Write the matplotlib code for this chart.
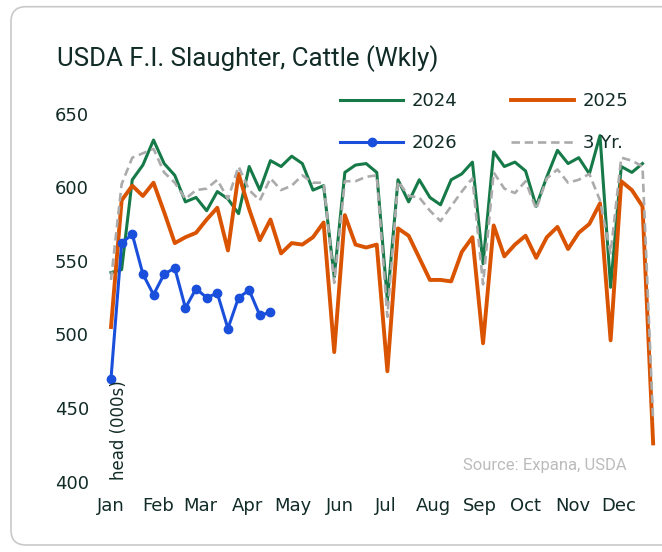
## Import libraries
import numpy as np
import matplotlib
matplotlib.use('Agg')
import matplotlib.pyplot as plt
from matplotlib.patches import FancyBboxPatch


## Data (weekly, head 000s)
weeks_2024 = list(range(1, 52))
y2024 = [542, 544, 605, 615, 632, 616, 608, 590, 593, 584,
         597, 592, 582, 614, 598, 618, 614, 621, 616, 598,
         601, 539, 610, 615, 616, 610, 523, 605, 590, 605,
         593, 588, 605, 609, 617, 548, 624, 614, 617, 611,
         587, 607, 625, 616, 620, 609, 635, 532, 614, 610,
         616]

weeks_2025 = list(range(1, 53))
y2025 = [505, 591, 601, 594, 603, 583, 562, 566, 569, 578,
         586, 557, 609, 585, 564, 578, 555, 562, 561, 566,
         576, 488, 581, 561, 559, 561, 475, 572, 567, 552,
         537, 537, 536, 556, 566, 494, 574, 553, 561, 567,
         552, 566, 573, 558, 569, 575, 589, 496, 604, 598,
         587, 426]

weeks_2026 = list(range(1, 17))
y2026 = [470, 562, 568, 541, 527, 541, 545, 518, 531, 525,
         528, 504, 525, 530, 513, 515]

weeks_avg = list(range(1, 53))
yavg = [537, 602, 620, 623, 626, 610, 603, 592, 598, 599,
        605, 592, 614, 598, 591, 606, 598, 601, 608, 603,
        603, 535, 604, 604, 607, 608, 512, 604, 594, 593,
        584, 577, 587, 597, 606, 534, 610, 599, 596, 604,
        585, 606, 612, 603, 605, 609, 591, 555, 620, 618,
        614, 441]

months = ['Jan', 'Feb', 'Mar', 'Apr', 'May', 'Jun',
          'Jul', 'Aug', 'Sep', 'Oct', 'Nov', 'Dec']
month_start_doy = [1, 32, 60, 91, 121, 152, 182, 213, 244, 274, 305, 335]
yticks = [400, 450, 500, 550, 600, 650]

## Style
dark = '#112b26'
c2024 = '#167a48'
c2025 = '#d95300'
c2026 = '#1a4fdc'
cavg = '#ababab'

W, H = 662, 552
fig = plt.figure(figsize=(W/100, H/100), dpi=100)

# card border
card = FancyBboxPatch((0.11, 0.07), 7.0, 5.383,
                      boxstyle='round,pad=0,rounding_size=0.15',
                      transform=fig.dpi_scale_trans,
                      facecolor='none', edgecolor='#c9c9c9', lw=1.2, zorder=0)
fig.patches.append(card)

# axes placed in pixels
ax_l, ax_r = 100, 662
ax_top, ax_bot = 113.5, 481.7
ax = fig.add_axes([ax_l/W, 1-ax_bot/H, (ax_r-ax_l)/W, (ax_bot-ax_top)/H])
ax.patch.set_alpha(0)

px_per_wk = 10.63
ax.set_xlim(1-(111-ax_l)/px_per_wk, 1+(ax_r-111)/px_per_wk)
ax.set_ylim(400, 650)

l1, = ax.plot(weeks_2024, y2024, color=c2024, lw=2.2, zorder=2, label='2024')
l2, = ax.plot(weeks_2025, y2025, color=c2025, lw=2.8, zorder=3, label='2025')
l4, = ax.plot(weeks_avg, yavg, color=cavg, lw=1.9, ls=(0, (3.2, 1.8)), zorder=4, label='3 Yr.')
l3, = ax.plot(weeks_2026, y2026, color=c2026, lw=2.2, marker='o', ms=6, zorder=5, label='2026')

for s in ax.spines.values():
    s.set_visible(False)

ax.set_yticks(yticks)
ax.set_yticklabels([str(v) for v in yticks])
ax.set_xticks([1+(d-1)/7 for d in month_start_doy])
ax.set_xticklabels(months)
ax.tick_params(axis='y', length=0, pad=8, labelsize=13, labelcolor=dark)
ax.tick_params(axis='x', length=0, pad=11, labelsize=13, labelcolor=dark)

leg = fig.legend([l1, l3, l2, l4], ['2024', '2026', '2025', '3 Yr.'],
                 ncol=2, loc='upper left', bbox_to_anchor=(340/W, 1-92/H),
                 frameon=False, fontsize=13, handlelength=3.5, handletextpad=0.45,
                 columnspacing=3.0, labelspacing=1.35, borderpad=0, borderaxespad=0)
for t in leg.get_texts():
    t.set_color(dark)

fig.text(57/W, 1-65.7/H, 'USDA F.I. Slaughter, Cattle (Wkly)',
         fontsize=18.6, color=dark, va='baseline', ha='left',
         family=['Liberation Sans Narrow', 'Roboto', 'DejaVu Sans'])
fig.text(119/W, 1-480/H, 'head (000s)', rotation=90, ha='center', va='bottom',
         fontsize=12, color=dark)
fig.text(627/W, 1-465.7/H, 'Source: Expana, USDA', ha='right', va='center',
         fontsize=12, color='#bcbcbc', family=['Roboto', 'DejaVu Sans'])

fig.savefig('out.png', dpi=100)
